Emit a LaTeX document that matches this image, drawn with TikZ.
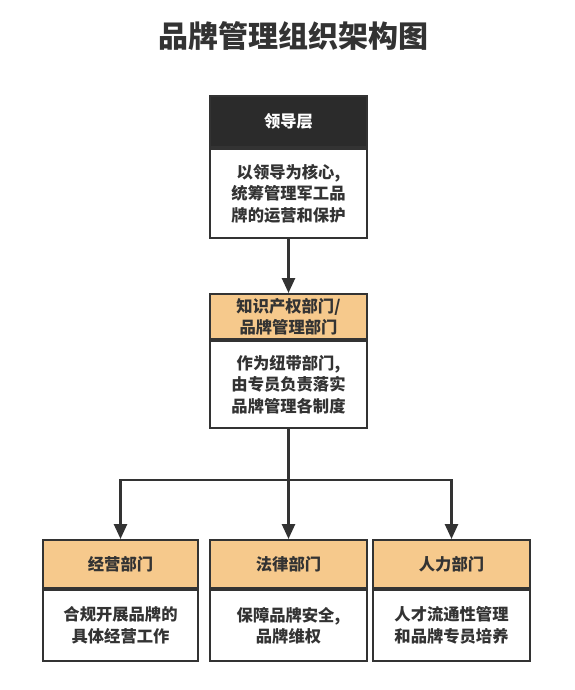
\documentclass[tikz,border=0pt]{standalone}
\usepackage{fontspec}
\setmainfont{Noto Sans CJK SC}
\usetikzlibrary{arrows.meta}
\definecolor{hdrdark}{HTML}{2B2B2B}
\definecolor{hdrorange}{HTML}{F6C98C}
\definecolor{ink}{HTML}{333333}
\begin{document}
\begin{tikzpicture}[x=1pt,y=-1pt,
  cell/.style={draw=ink, line width=2pt, rectangle, inner sep=0pt, anchor=north,
    font=\fontsize{16.3}{21.5}\selectfont\bfseries, text=ink, align=center},
  darkhdr/.style={cell, fill=hdrdark, text=white},
  orghdr/.style={cell, fill=hdrorange},
  bodycell/.style={cell, fill=white},
  link/.style={draw=ink, line width=2.6pt, -{Triangle[length=15pt,width=13pt]}},
  plain/.style={draw=ink, line width=2.6pt}]
\useasboundingbox (0,0) rectangle (575,690);
\fill[white] (0,0) rectangle (575,690);
\node[font=\fontsize{30}{34}\selectfont\bfseries, text=ink] (title) at (293,36) {品牌管理组织架构图};

\node[darkhdr, minimum width=157pt, minimum height=51pt] (h1) at (288.5,95) {领导层};
\node[bodycell, minimum width=157pt, minimum height=89pt] (b1) at (h1.south) {以领导为核心,\\统筹管理军工品\\牌的运营和保护};

\node[orghdr, minimum width=157pt, minimum height=45pt, font=\fontsize{16.3}{20.5}\selectfont\bfseries] (h2) at (288.5,293) {知识产权部门/\\品牌管理部门};
\node[bodycell, minimum width=157pt, minimum height=87pt] (b2) at (h2.south) {作为纽带部门,\\由专员负责落实\\品牌管理各制度};

\node[orghdr, minimum width=155pt, minimum height=48pt] (h3) at (120.5,539) {经营部门};
\node[bodycell, minimum width=155pt, minimum height=71pt] (b3) at (h3.south) {合规开展品牌的\\具体经营工作};

\node[orghdr, minimum width=157pt, minimum height=48pt] (h4) at (288.5,539) {法律部门};
\node[bodycell, minimum width=157pt, minimum height=71pt] (b4) at (h4.south) {保障品牌安全,\\品牌维权};

\node[orghdr, minimum width=157pt, minimum height=48pt] (h5) at (451.5,539) {人力部门};
\node[bodycell, minimum width=157pt, minimum height=71pt] (b5) at (h5.south) {人才流通性管理\\和品牌专员培养};

\coordinate (junc) at (288.5,480);
\draw[link] (b1.south) -- (h2.north);
\draw[plain] (b2.south) -- (junc);
\draw[link] (junc) -| (h3.north);
\draw[link] (junc) -- (h4.north);
\draw[link] (junc) -| (h5.north);
\end{tikzpicture}
\end{document}
